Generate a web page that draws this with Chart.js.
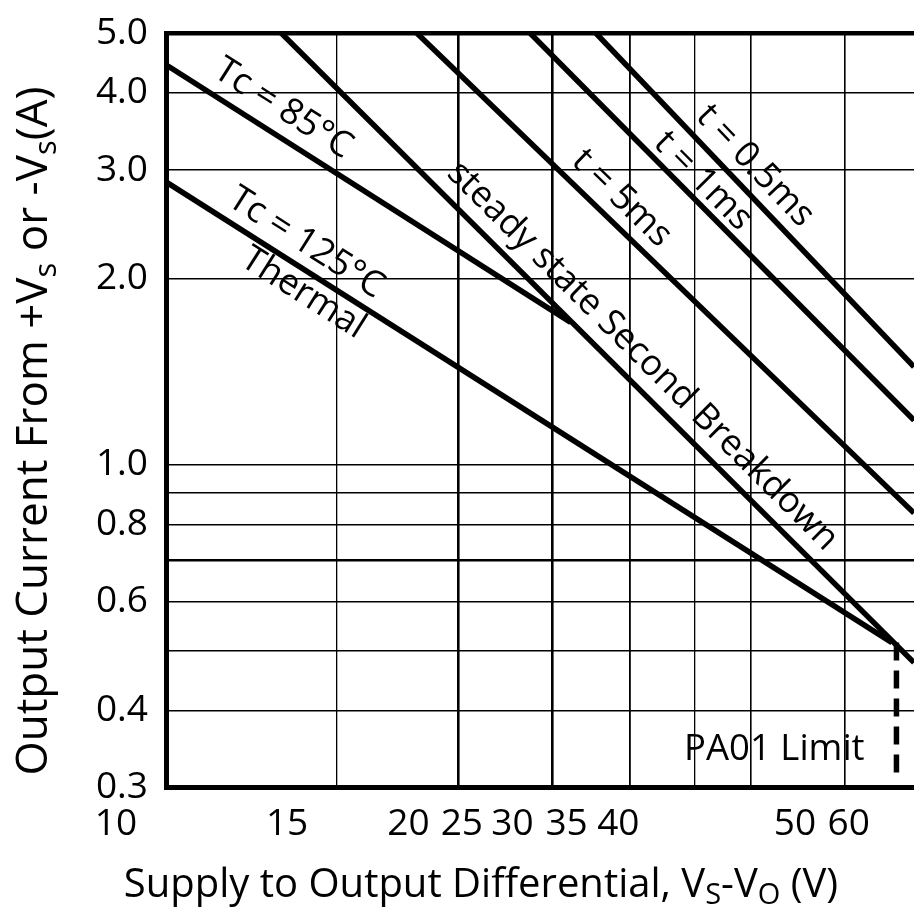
<!DOCTYPE html>
<html>
<head>
<meta charset="utf-8">
<script src="https://cdn.jsdelivr.net/npm/chart.js@4.4.1/dist/chart.umd.min.js"></script>
<style>
html,body{margin:0;padding:0;background:#fff;overflow:hidden;}
#wrap{width:914px;height:907px;position:relative;}
</style>
</head>
<body>
<div id="wrap"><canvas id="c" width="914" height="907"></canvas></div>
<script>
// ---- axis data ----
const xMin = 10, xMax = 58.9;
const yMin = 0.3, yMax = 5.0;
const xGridValues = [10, 15, 20, 25, 30, 35, 40, 50];
const xTickLabels = ['10', '15', '20', '25', '30', '35', '40', '50', '60'];
const xTickLabelAt = [10, 15, 20, 22.7, 25.6, 29.1, 32.9, 50, 56.8];
const yGridValues = [0.3, 0.4, 0.5, 0.6, 0.7, 0.8, 0.9, 1, 2, 3, 4, 5];
const yTickLabels = ['0.3', '0.4', '', '0.6', '', '0.8', '', '1.0', '2.0', '3.0', '4.0', '5.0'];

// ---- series (V, A) ----
const ssbV = [13.14, 58.9];  const ssbI = [5.0, 0.478];
const t5V = [18.12, 58.9];   const t5I = [5.0, 0.835];
const t1V = [23.7, 58.9];    const t1I = [5.0, 1.18];
const t05V = [27.7, 58.9];   const t05I = [5.0, 1.44];
const tc85V = [10, 26.1];    const tc85I = [4.44, 1.70];
const tc125V = [10, 55.9];   const tc125I = [2.87, 0.515];
const limitV = [56.5, 56.5]; const limitI = [0.515, 0.317];

// ---- annotations ----
const noteTexts = ['Tc = 85°C', 'Tc = 125°C', 'Thermal', 'steady state Second Breakdown', 't = 5ms', 't = 1ms', 't = 0.5ms', 'PA01 Limit'];
const noteV = [13.2, 13.94, 13.85, 30.95, 29.45, 35.7, 40.4, 42.3];
const noteI = [3.77, 2.285, 1.896, 1.499, 2.70, 2.88, 3.045, 0.345];
const noteAlong = [4, 5, 5, 0, 1, 2, 3, -1];

const FONT = '"Open Sans", "Noto Sans", "DejaVu Sans", sans-serif';

function pts(vs, is) { return vs.map((v, k) => ({x: v, y: is[k]})); }

const base = {borderColor: '#000', borderWidth: 5.5, pointRadius: 0, pointHoverRadius: 0, showLine: true, fill: false, tension: 0};
const datasets = [
  Object.assign({}, base, {label: 'steady state Second Breakdown', data: pts(ssbV, ssbI)}),
  Object.assign({}, base, {label: 't = 5ms', data: pts(t5V, t5I)}),
  Object.assign({}, base, {label: 't = 1ms', data: pts(t1V, t1I)}),
  Object.assign({}, base, {label: 't = 0.5ms', data: pts(t05V, t05I)}),
  Object.assign({}, base, {label: 'Tc = 85°C', data: pts(tc85V, tc85I)}),
  Object.assign({}, base, {label: 'Tc = 125°C Thermal', data: pts(tc125V, tc125I)}),
  Object.assign({}, base, {label: 'PA01 Limit', data: pts(limitV, limitI), borderDash: [18, 10]})
];

function drawRich(ctx, segs, size, subSize, subDrop) {
  let w = 0;
  segs.forEach(s => {
    ctx.font = (s.sub ? subSize : size) + 'px ' + FONT;
    w += ctx.measureText(s.t).width;
  });
  let x = -w / 2;
  segs.forEach(s => {
    ctx.font = (s.sub ? subSize : size) + 'px ' + FONT;
    ctx.fillText(s.t, x, s.sub ? subDrop : 0);
    x += ctx.measureText(s.t).width;
  });
  return w;
}

const notesPlugin = {
  id: 'notes',
  afterDatasetsDraw(chart) {
    const ctx = chart.ctx, xs = chart.scales.x, ys = chart.scales.y;
    ctx.save();
    ctx.fillStyle = '#000';
    ctx.textAlign = 'center';
    ctx.textBaseline = 'middle';
    noteTexts.forEach((t, k) => {
      const px = xs.getPixelForValue(noteV[k]);
      const py = ys.getPixelForValue(noteI[k]);
      let ang = 0;
      if (noteAlong[k] >= 0) {
        const d = chart.data.datasets[noteAlong[k]].data;
        const x0 = xs.getPixelForValue(d[0].x), y0 = ys.getPixelForValue(d[0].y);
        const x1 = xs.getPixelForValue(d[d.length - 1].x), y1 = ys.getPixelForValue(d[d.length - 1].y);
        ang = Math.atan2(y1 - y0, x1 - x0);
      }
      ctx.save();
      ctx.translate(px, py);
      ctx.rotate(ang);
      ctx.font = (noteAlong[k] >= 0 ? 36 : 36.5) + 'px ' + FONT;
      ctx.fillText(t, 0, 0);
      ctx.restore();
    });
    ctx.restore();
  },
  afterDraw(chart) {
    const ctx = chart.ctx;
    ctx.save();
    ctx.fillStyle = '#000';
    ctx.textAlign = 'left';
    ctx.textBaseline = 'alphabetic';
    // x title
    ctx.save();
    ctx.translate(481, 897);
    drawRich(ctx, [
      {t: 'Supply to Output Differential, V'}, {t: 'S', sub: true}, {t: '-V'}, {t: 'O', sub: true}, {t: ' (V)'}
    ], 40, 29, 7);
    ctx.restore();
    // y title
    ctx.save();
    ctx.translate(47, 431);
    ctx.rotate(-Math.PI / 2);
    drawRich(ctx, [
      {t: 'Output Current From +V'}, {t: 's', sub: true}, {t: ' or -V'}, {t: 's', sub: true}, {t: '(A)'}
    ], 44, 31, 9);
    ctx.restore();
    ctx.restore();
  }
};

const xGridWidth = {10: 0, 15: 1.3, 20: 2.6, 25: 2.6, 30: 1.8, 35: 1.3, 40: 1.6, 50: 1.6};
const yGridWidth = v => (v === 5 ? 4.5 : v === 0.3 ? 0 : v === 0.7 ? 2.6 : 1.4);

new Chart(document.getElementById('c'), {
  type: 'scatter',
  data: {datasets},
  plugins: [notesPlugin],
  options: {
    responsive: false,
    animation: false,
    devicePixelRatio: 1,
    layout: {padding: {top: 33, left: 0, right: 0, bottom: 0}},
    plugins: {legend: {display: false}, tooltip: {enabled: false}},
    scales: {
      x: {
        type: 'logarithmic', position: 'bottom', min: xMin, max: xMax,
        afterBuildTicks: s => { s.ticks = xGridValues.map(v => ({value: v})); },
        afterFit: s => { s.height = 0; s.paddingLeft = 0; s.paddingRight = 0; },
        ticks: {display: false},
        grid: {drawTicks: false, color: '#000', lineWidth: c => (c.tick ? (xGridWidth[c.tick.value] ?? 1.3) : 1.3)},
        border: {display: true, color: '#000', width: 5}
      },
      xl: {
        type: 'logarithmic', position: 'bottom', min: xMin, max: xMax,
        afterBuildTicks: s => { s.ticks = xTickLabelAt.map(v => ({value: v})); },
        afterFit: s => { s.height = 119.5; s.paddingLeft = 0; s.paddingRight = 0; },
        ticks: {
          autoSkip: false, maxRotation: 0, minRotation: 0, labelOffset: -50, padding: 15,
          color: '#000', font: {family: FONT, size: 37},
          callback: (v, i) => xTickLabels[i]
        },
        grid: {display: false, drawTicks: false},
        border: {display: false}
      },
      y: {
        type: 'logarithmic', position: 'left', min: yMin, max: yMax,
        afterBuildTicks: s => { s.ticks = yGridValues.map(v => ({value: v})); },
        afterFit: s => { s.width = 166; s.paddingTop = 0; s.paddingBottom = 0; },
        ticks: {
          autoSkip: false, padding: 18, color: '#000', font: {family: FONT, size: 37},
          callback: (v, i) => yTickLabels[i]
        },
        grid: {drawTicks: false, color: '#000', lineWidth: c => (c.tick ? yGridWidth(c.tick.value) : 1.4)},
        border: {display: true, color: '#000', width: 5}
      }
    }
  }
});
</script>
</body>
</html>
